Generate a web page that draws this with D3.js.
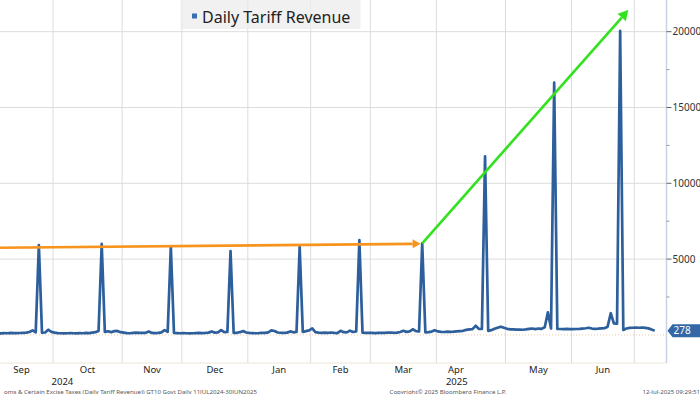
<!DOCTYPE html>
<html>
<head>
<meta charset="utf-8">
<script src="https://cdn.jsdelivr.net/npm/d3@7"></script>
<style>
body { margin: 0; background: #fff; }
svg { display: block; font-family: "Noto Sans", sans-serif; }
</style>
</head>
<body>
<script>
var WIDTH = 700, HEIGHT = 394;
var PLOT_RIGHT = 666.5, PLOT_BOTTOM = 363;

// federal business days only (no daily statement on these)
var holidays = ["2024-09-02", "2024-10-14", "2024-11-11", "2024-11-28", "2024-12-25",
  "2025-01-01", "2025-01-09", "2025-01-20", "2025-02-17", "2025-05-26", "2025-06-19", "2025-07-04"];
var firstDay = "2024-09-03", lastDay = "2025-07-10";

// daily tariff revenue ($M), one value per business day
var sepVals = [100,110,95,105,120,110,130,115,120,125,140,150,190,300,170,5930,140,160,340,200];
var octVals = [150,120,110,100,110,120,110,100,120,110,130,120,150,180,260,6000,200,240,180,250,260,180];
var novVals = [150,120,110,130,150,140,130,140,220,130,120,130,170,320,200,5820,130,120,110];
var decVals = [120,110,100,110,120,130,120,130,150,230,150,170,320,180,200,5530,130,140,180,250,160];
var janVals = [130,120,110,120,140,130,170,300,260,160,140,130,150,230,170,200,5800,190,250,300];
var febVals = [430,180,150,140,150,130,160,130,120,270,180,170,280,190,230,6250,150,130,140];
var marVals = [130,120,130,140,130,150,160,140,150,190,270,200,230,370,250,230,6040,170,180,220,310];
var aprVals = [230,200,190,210,200,210,230,250,270,330,360,380,600,400,390,11780,270,310,400,470,540,470];
var mayVals = [400,370,360,350,350,340,360,400,420,380,420,400,500,1490,420,16640,390,390,380,400,380];
var junVals = [380,390,400,420,440,470,420,400,410,430,440,540,1430,760,740,20050,330,420,460,470];
var julVals = [480,470,490,460,430,350,278];

var monthLabels = ["Sep", "Oct", "Nov", "Dec", "Jan", "Feb", "Mar", "Apr", "May", "Jun"];
var yearLabels = [{text: "2024", at: 22.5}, {text: "2025", at: 148}]; // business-day index
var yTicks = [5000, 10000, 15000, 20000];
var yMinor = [2500, 7500, 12500, 17500];

// annotation arrows: [business-day index, value]
var orangeArrow = [[-0.5, 5740], [136.5, 6010]];
var greenArrow = [[137, 6040], [202.6, 21430]];

var revenue = [].concat(sepVals, octVals, novVals, decVals, janVals, febVals, marVals, aprVals, mayVals, junVals, julVals);

var parse = d3.timeParse("%Y-%m-%d"), fmt = d3.timeFormat("%Y-%m-%d");
var days = d3.timeDay.range(parse(firstDay), d3.timeDay.offset(parse(lastDay), 1))
  .filter(d => d.getDay() % 6 != 0 && holidays.indexOf(fmt(d)) < 0);

var data = days.map((d, i) => ({date: d, i: i, v: revenue[i]}));

// first business day of each month -> gridline just before it
var monthStarts = [];
data.forEach((d, i) => {
  if (i > 0 && d.date.getMonth() != data[i - 1].date.getMonth()) monthStarts.push(i);
});

var x = d3.scaleLinear().domain([19.5, 204.5]).range([53, 634.3]);
var y = d3.scaleLinear().domain([0, 20000]).range([334.9, 31.7]);

var svg = d3.select("body").append("svg")
  .attr("width", WIDTH).attr("height", HEIGHT);

svg.append("defs").append("clipPath").attr("id", "plot")
  .append("rect").attr("x", 0).attr("y", 0).attr("width", PLOT_RIGHT).attr("height", PLOT_BOTTOM);

var grid = svg.append("g");
grid.selectAll("line.v").data(monthStarts).enter().append("line")
  .attr("x1", d => x(d - 0.5)).attr("x2", d => x(d - 0.5))
  .attr("y1", 0).attr("y2", PLOT_BOTTOM)
  .attr("stroke", "#dcdcdc").attr("stroke-width", 1);
grid.selectAll("line.h").data(yTicks).enter().append("line")
  .attr("x1", 0).attr("x2", PLOT_RIGHT)
  .attr("y1", d => y(d)).attr("y2", d => y(d))
  .attr("stroke", "#dcdcdc").attr("stroke-width", 1);
// zero line, dotted
grid.append("line")
  .attr("x1", 0).attr("x2", PLOT_RIGHT).attr("y1", y(0)).attr("y2", y(0))
  .attr("stroke", "#efc9a8").attr("stroke-width", 1).attr("stroke-dasharray", "1,2");
// bottom frame
grid.append("line")
  .attr("x1", 0).attr("x2", PLOT_RIGHT).attr("y1", PLOT_BOTTOM).attr("y2", PLOT_BOTTOM)
  .attr("stroke", "#ede6d8").attr("stroke-width", 1);

// legend box
svg.append("rect").attr("x", 180.5).attr("y", 0).attr("width", 180).attr("height", 29)
  .attr("fill", "#ececec").attr("fill-opacity", 0.75);
svg.append("rect").attr("x", 192).attr("y", 13.5).attr("width", 5).attr("height", 5)
  .attr("fill", "#3b6fb0");
svg.append("text").attr("x", 202).attr("y", 23)
  .attr("font-size", 16).attr("fill", "#222").text("Daily Tariff Revenue");

// series
var line = d3.line().x(d => x(d.i)).y(d => y(d.v));
svg.append("path").datum(data)
  .attr("clip-path", "url(#plot)")
  .attr("d", line)
  .attr("fill", "none").attr("stroke", "#2c5f9c").attr("stroke-width", 2.7)
  .attr("stroke-linejoin", "round");

// arrows
function arrow(pts, color, headLen, headW) {
  var x1 = x(pts[0][0]), y1 = y(pts[0][1]), x2 = x(pts[1][0]), y2 = y(pts[1][1]);
  var ang = Math.atan2(y2 - y1, x2 - x1);
  var bx = x2 - headLen * Math.cos(ang), by = y2 - headLen * Math.sin(ang);
  svg.append("line").attr("x1", x1).attr("y1", y1).attr("x2", bx).attr("y2", by)
    .attr("stroke", color).attr("stroke-width", 2.6);
  var px = Math.sin(ang) * headW / 2, py = -Math.cos(ang) * headW / 2;
  svg.append("path")
    .attr("d", "M" + x2 + "," + y2 + "L" + (bx + px) + "," + (by + py) + "L" + (bx - px) + "," + (by - py) + "Z")
    .attr("fill", color);
}
arrow(orangeArrow, "#f7941d", 8, 9);
arrow(greenArrow, "#33e21f", 10, 11);

// right axis
var ax = svg.append("g");
ax.append("line").attr("x1", PLOT_RIGHT).attr("x2", PLOT_RIGHT).attr("y1", 0).attr("y2", PLOT_BOTTOM)
  .attr("stroke", "#c9d2e2").attr("stroke-width", 1.5);
ax.selectAll("line.maj").data(yTicks).enter().append("line")
  .attr("x1", PLOT_RIGHT).attr("x2", PLOT_RIGHT + 5)
  .attr("y1", d => y(d)).attr("y2", d => y(d))
  .attr("stroke", "#666");
ax.selectAll("line.min").data(yMinor).enter().append("line")
  .attr("x1", PLOT_RIGHT).attr("x2", PLOT_RIGHT + 3)
  .attr("y1", d => y(d)).attr("y2", d => y(d))
  .attr("stroke", "#999");
ax.selectAll("text").data(yTicks).enter().append("text")
  .attr("x", PLOT_RIGHT + 6).attr("y", d => y(d)).attr("dy", "0.35em")
  .attr("font-size", 10).attr("fill", "#333").text(d => d);

// last value tag
var ty = y(revenue[revenue.length - 1]);
svg.append("path")
  .attr("d", "M" + (PLOT_RIGHT + 1) + "," + ty + "L" + (PLOT_RIGHT + 6) + "," + (ty - 6.5) + "L700," + (ty - 6.5) +
    "L700," + (ty + 6.5) + "L" + (PLOT_RIGHT + 6) + "," + (ty + 6.5) + "Z")
  .attr("fill", "#3367a6");
svg.append("text").attr("x", PLOT_RIGHT + 7).attr("y", ty).attr("dy", "0.36em")
  .attr("font-size", 10).attr("fill", "#fff").text(revenue[revenue.length - 1]);

// month labels, centred in each month (Apr sits over the year label)
var bounds = [-0.5].concat(monthStarts.map(d => d - 0.5));
var labelShift = {Apr: -15};
svg.selectAll("text.month").data(monthLabels).enter().append("text")
  .attr("x", (d, k) => (x(bounds[k]) + x(bounds[k + 1])) / 2 + (labelShift[d] || 0))
  .attr("y", 372.5).attr("text-anchor", "middle")
  .attr("font-size", 9.5).attr("fill", "#222").text(d => d);
svg.selectAll("text.year").data(yearLabels).enter().append("text")
  .attr("x", d => x(d.at)).attr("y", 385).attr("text-anchor", "middle")
  .attr("font-size", 9.5).attr("fill", "#222").text(d => d.text);

// footer (source line is cropped at the left edge, as in the original)
var foot = svg.append("g").attr("font-size", 6.1).attr("fill", "#555");
foot.append("text").attr("x", 257).attr("y", 393.5).attr("text-anchor", "end")
  .text("oms & Certain Excise Taxes (Daily Tariff Revenue)) GT10  Govt  Daily 11JUL2024-30JUN2025");
foot.append("text").attr("x", 448).attr("y", 393.5).attr("text-anchor", "middle")
  .text("Copyright\u00a9 2025 Bloomberg Finance L.P.");
foot.append("text").attr("x", 700).attr("y", 393.5).attr("text-anchor", "end")
  .text("12-Jul-2025 09:29:51");
</script>
</body>
</html>
